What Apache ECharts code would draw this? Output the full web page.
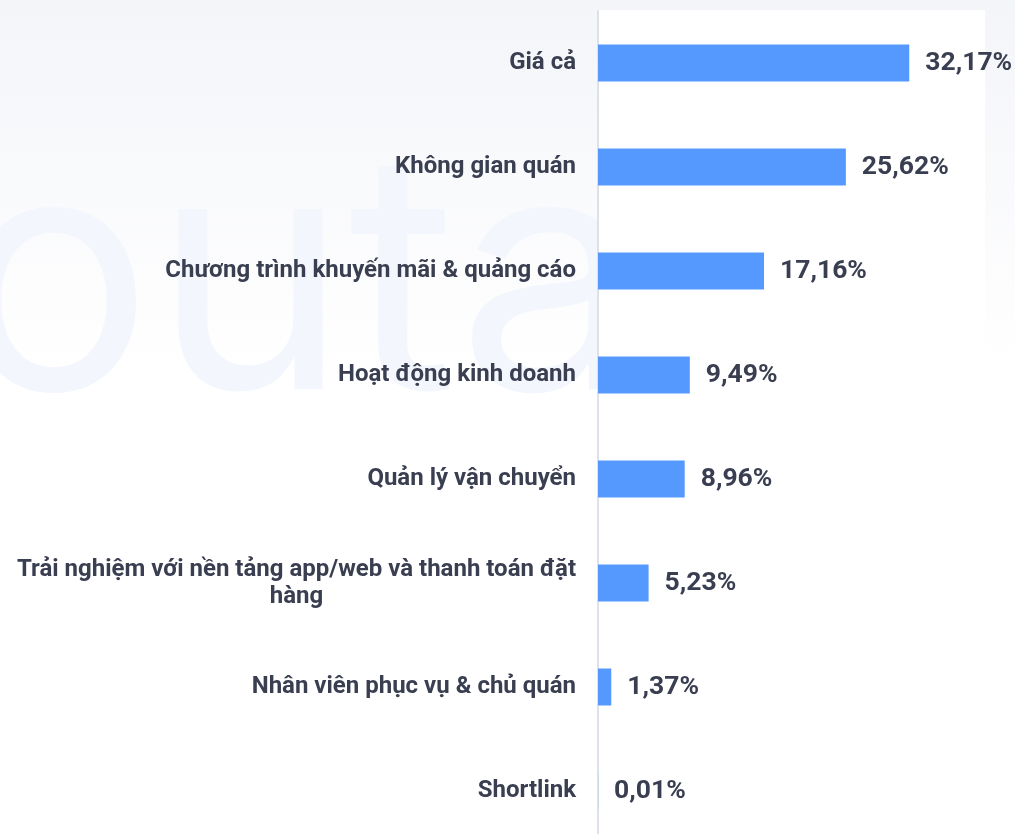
<!DOCTYPE html>
<html>
<head>
<meta charset="utf-8">
<script src="https://cdn.jsdelivr.net/npm/echarts@6/dist/echarts.min.js"></script>
<style>
  html, body { margin: 0; padding: 0; background: #fff; }
  #chart { width: 1015px; height: 834px; }
</style>
</head>
<body>
<div id="chart"></div>
<script>
const categories = [
  'Giá cả',
  'Không gian quán',
  'Chương trình khuyến mãi & quảng cáo',
  'Hoạt động kinh doanh',
  'Quản lý vận chuyển',
  'Trải nghiệm với nền tảng app/web và thanh toán đặt\nhàng',
  'Nhân viên phục vụ & chủ quán',
  'Shortlink'
];
const shares = [32.17, 25.62, 17.16, 9.49, 8.96, 5.23, 1.37, 0.01];

const chart = echarts.init(document.getElementById('chart'));
chart.setOption({
  backgroundColor: {
    type: 'linear', x: 0, y: 0, x2: 0, y2: 1,
    colorStops: [{ offset: 0, color: '#f4f5f9' }, { offset: 0.45, color: '#ffffff' }]
  },
  graphic: [
    { type: 'rect', left: 598, top: 10, z: -2, shape: { width: 387, height: 830 }, style: { fill: '#ffffff' } },
    { type: 'text', left: -45, top: 125, z: -3, style: { text: 'outa', fontSize: 330, fontFamily: 'Inter', fill: '#f3f6fc' } }
  ],
  grid: { left: 598, top: 11, width: 387, height: 832, outerBoundsMode: 'none', containLabel: false },
  xAxis: {
    type: 'value', min: 0, max: 40,
    show: false
  },
  yAxis: {
    type: 'category',
    data: categories,
    inverse: true,
    axisLine: { show: true, lineStyle: { color: '#dde1e8', width: 2 } },
    axisTick: { show: false },
    axisLabel: {
      margin: 22,
      fontFamily: 'Roboto',
      fontWeight: 'bold',
      fontSize: 24,
      color: '#393e50',
      lineHeight: 27,
      formatter: function (v) {
        return v.split('\n').map(function (s) { return '{c|' + s + '}'; }).join('\n');
      },
      rich: {
        c: { align: 'center', fontFamily: 'Roboto', fontWeight: 'bold', fontSize: 24, color: '#393e50', lineHeight: 27 }
      }
    }
  },
  series: [{
    type: 'bar',
    data: shares,
    barWidth: 37,
    itemStyle: { color: '#5599ff' },
    label: {
      show: true,
      position: 'right',
      distance: 16,
      fontFamily: 'Roboto',
      fontWeight: 'bold',
      fontSize: 26.5,
      color: '#393e50',
      formatter: function (p) { return p.value.toFixed(2).replace('.', ',') + '%'; }
    }
  }]
});
</script>
</body>
</html>
